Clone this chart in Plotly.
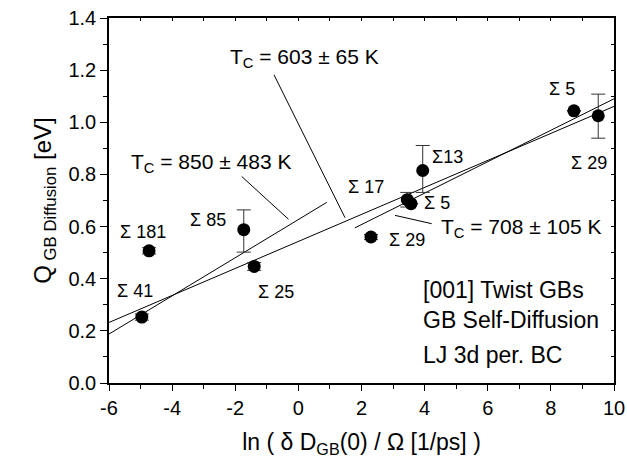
import numpy as np
import plotly.graph_objects as go

# ---- data ----
ln_d = [-4.96, -4.73, -1.73, -1.40, 2.30, 3.45, 3.57, 3.94, 8.73, 9.50]
q_gb = [0.253, 0.507, 0.588, 0.447, 0.560, 0.703, 0.688, 0.815, 1.044, 1.025]
err_up = [0.012, 0.012, 0.076, 0.015, 0.010, 0.028, 0.0, 0.096, 0.0, 0.083]
err_dn = [0.012, 0.012, 0.086, 0.015, 0.010, 0.028, 0.0, 0.084, 0.0, 0.086]
sigma_labels = ["Σ 41", "Σ 181", "Σ 85", "Σ 25", "Σ 29", "Σ 17", "Σ 5", "Σ13", "Σ 5", "Σ 29"]

fit_names = ["T<sub>C</sub> = 850 ± 483 K", "T<sub>C</sub> = 603 ± 65 K", "T<sub>C</sub> = 708 ± 105 K"]
fit_slope = [0.0732, 0.0518, 0.0603]
fit_intercept = [0.627, 0.543, 0.487]
fit_xmin = [-6.0, -6.0, 1.79]
fit_xmax = [0.9, 10.0, 10.0]

x_ticks = [-6, -4, -2, 0, 2, 4, 6, 8, 10]
x_ticktext = ["-6", "-4", "-2", "0", "2", "4", "6", "8", "10"]
y_ticks = [0.0, 0.2, 0.4, 0.6, 0.8, 1.0, 1.2, 1.4]
y_ticktext = ["0.0", "0.2", "0.4", "0.6", "0.8", "1.0", "1.2", "1.4"]

FONT = "Liberation Sans, Arial, sans-serif"

fig = go.Figure()

# fit lines
for s, b, x0, x1 in zip(fit_slope, fit_intercept, fit_xmin, fit_xmax):
    xs = np.array([x0, x1])
    fig.add_trace(go.Scatter(x=xs, y=b + s * xs, mode="lines",
                             line=dict(color="black", width=1), showlegend=False,
                             hoverinfo="skip"))

# data points
fig.add_trace(go.Scatter(
    x=ln_d, y=q_gb, mode="markers",
    marker=dict(color="black", size=13),
    error_y=dict(type="data", array=err_up, arrayminus=err_dn, symmetric=False,
                 color="#333333", thickness=1, width=7),
    showlegend=False))

# invisible trace for the mirrored (top/right) axes
fig.add_trace(go.Scatter(x=[0], y=[0], xaxis="x2", yaxis="y2", mode="markers",
                         marker=dict(opacity=0), showlegend=False, hoverinfo="skip"))

# sigma labels: pixel offsets from each point
label_dx = [-7, -6, -36, 22, 36, -41, 26, 25, -12, -9]
label_dy = [26, 19, 10, -26, -3, 13, 1, 14, 22, -47]
for xv, yv, lab, dx, dy in zip(ln_d, q_gb, sigma_labels, label_dx, label_dy):
    fig.add_annotation(x=xv, y=yv, text=lab, showarrow=False, xshift=dx, yshift=dy,
                       font=dict(family=FONT, size=18, color="black"))

# fit labels and pointer lines
fit_label_pos = [(-2.784, 0.845), (0.179, 1.248), (7.054, 0.595)]
pointer = [((-1.795, 0.792), (-0.312, 0.628)),
           ((-0.772, 1.182), (1.478, 0.634)),
           ((3.062, 0.643), (4.225, 0.611))]
for name, (lx, ly), ((px0, py0), (px1, py1)) in zip(fit_names, fit_label_pos, pointer):
    fig.add_annotation(x=lx, y=ly, text=name, showarrow=False,
                       font=dict(family=FONT, size=21, color="black"))
    fig.add_shape(type="line", x0=px0, y0=py0, x1=px1, y1=py1,
                  line=dict(color="black", width=1))

# info text
info_lines = ["[001] Twist GBs", "GB Self-Diffusion", "LJ 3d per. BC"]
info_y = [0.358, 0.243, 0.108]
for t, yy in zip(info_lines, info_y):
    fig.add_annotation(x=3.87, y=yy, text=t, showarrow=False, xanchor="left",
                       font=dict(family=FONT, size=23, color="black"))

axis_common = dict(showline=True, linecolor="black", linewidth=1.5, showgrid=False,
                   zeroline=False, tickcolor="black", tickwidth=1.2, automargin=False)

fig.update_layout(
    width=627, height=459,
    margin=dict(l=109, r=13, t=18, b=76),
    plot_bgcolor="white", paper_bgcolor="white",
    font=dict(family=FONT, color="black"),
    xaxis=dict(range=[-6, 10], tickvals=x_ticks, ticktext=x_ticktext,
               ticks="outside", ticklen=6,
               minor=dict(dtick=1, tick0=0, ticks="outside", ticklen=4, tickcolor="black"),
               tickfont=dict(size=20, family=FONT),
               title=dict(text="ln ( δ D<sub>GB</sub>(0) / Ω [1/ps] )",
                          font=dict(size=23, family=FONT), standoff=16),
               **axis_common),
    yaxis=dict(range=[0, 1.4], tickvals=y_ticks, ticktext=y_ticktext,
               ticks="outside", ticklen=7,
               minor=dict(dtick=0.1, tick0=0, ticks="outside", ticklen=4, tickcolor="black"),
               tickfont=dict(size=20, family=FONT),
               title=dict(text="Q<sub> GB Diffusion</sub> [eV]",
                          font=dict(size=24, family=FONT), standoff=10),
               **axis_common),
    xaxis2=dict(range=[-6, 10], overlaying="x", side="top", anchor="y2",
                tickvals=x_ticks, showticklabels=False, ticks="inside", ticklen=3,
                minor=dict(dtick=1, tick0=0, ticks="inside", ticklen=3, tickcolor="black"),
                **axis_common),
    yaxis2=dict(range=[0, 1.4], overlaying="y", side="right", anchor="x2",
                tickvals=y_ticks, showticklabels=False, ticks="inside", ticklen=3,
                minor=dict(dtick=0.1, tick0=0, ticks="inside", ticklen=3, tickcolor="black"),
                **axis_common),
)

fig.write_html("out.html")
